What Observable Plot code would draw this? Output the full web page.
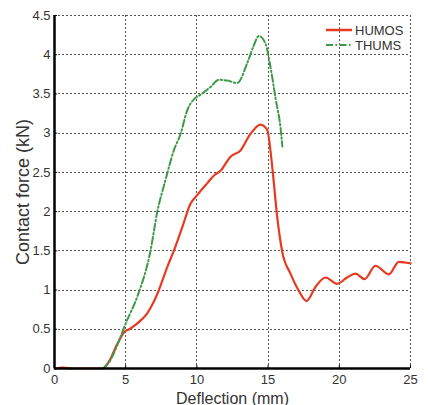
<!DOCTYPE html>
<html>
<head>
<meta charset="utf-8">
<script src="https://cdn.jsdelivr.net/npm/d3@7"></script>
<script src="https://cdn.jsdelivr.net/npm/@observablehq/plot@0.6"></script>
<style>
  html, body { margin: 0; padding: 0; background: #fff; }
  #wrap { position: relative; width: 428px; height: 405px; font-family: "Liberation Sans", Arial, sans-serif; }
  #legend { position: absolute; left: 322px; top: 20px; }
</style>
</head>
<body>
<div id="wrap"><div id="chart"></div><svg id="legend" width="100" height="36"></svg></div>
<script>
const xTicks = [0, 5, 10, 15, 20, 25];
const yTicks = [0, 0.5, 1, 1.5, 2, 2.5, 3, 3.5, 4, 4.5];
const yTickLabels = ["0", "0.5", "1", "1.5", "2", "2.5", "3", "3.5", "4", "4.5"];

const seriesNames = ["HUMOS", "THUMS"];
const seriesColors = ["#e63a22", "#3e9a46"];

const humosX = [0, 0.6, 1.3, 3.4, 3.8, 4.4, 4.87, 5.34, 6.04, 6.5, 6.97, 7.33, 7.91, 8.38, 8.97, 9.55, 10.02, 10.72, 11.2, 11.66, 12.36, 13.06, 13.76, 14.47, 14.94, 15.29, 15.64, 15.99, 16.57, 17.16, 17.7, 18.33, 19.03, 19.85, 20.55, 21.14, 21.77, 22.54, 23.48, 24.18, 25];
const humosY = [0, 0.01, 0, 0, 0.08, 0.31, 0.46, 0.51, 0.61, 0.7, 0.85, 1.0, 1.29, 1.5, 1.8, 2.1, 2.21, 2.36, 2.46, 2.52, 2.7, 2.78, 2.99, 3.11, 3.04, 2.57, 1.93, 1.49, 1.21, 0.99, 0.86, 1.04, 1.16, 1.08, 1.16, 1.21, 1.14, 1.31, 1.2, 1.36, 1.34];

const thumsX = [3.4, 3.9, 4.63, 4.99, 5.8, 6.74, 7.21, 7.79, 8.38, 8.85, 9.32, 9.9, 10.25, 10.96, 11.54, 12.13, 12.83, 13.53, 14.0, 14.35, 14.82, 15.17, 15.52, 15.92, 16.0];
const thumsY = [0, 0.1, 0.4, 0.57, 0.91, 1.5, 1.99, 2.4, 2.78, 2.99, 3.29, 3.45, 3.49, 3.59, 3.68, 3.67, 3.64, 3.89, 4.12, 4.24, 4.14, 3.84, 3.45, 2.99, 2.83];

const humos = humosX.map((x, i) => ({x, y: humosY[i]}));
const thums = thumsX.map((x, i) => ({x, y: thumsY[i]}));

const gridStyle = {stroke: "#555", strokeOpacity: 1, strokeDasharray: "2,2", strokeWidth: 1, shapeRendering: "crispEdges"};

const chart = Plot.plot({
  width: 428,
  height: 405,
  marginLeft: 54,
  marginRight: 18,
  marginTop: 15,
  marginBottom: 37,
  style: {fontFamily: "Liberation Sans, Arial, sans-serif", fontSize: "13px", color: "#333", background: "#fff"},
  x: {domain: [0, 25]},
  y: {domain: [0, 4.5]},
  marks: [
    Plot.ruleX(xTicks, gridStyle),
    Plot.ruleY(yTicks, gridStyle),
    Plot.line(humos, {x: "x", y: "y", stroke: seriesColors[0], strokeWidth: 2.2, curve: "monotone-x"}),
    Plot.line(thums, {x: "x", y: "y", stroke: seriesColors[1], strokeWidth: 2, strokeDasharray: "7,2.5,1.5,2.5", curve: "monotone-x"}),
    Plot.axisX(xTicks, {tickSize: -3, tickPadding: 9, stroke: "#000", fontSize: 13, fill: "#333", label: "Deflection (mm)", labelAnchor: "center", labelArrow: "none", labelOffset: 35}),
    Plot.axisY(yTicks, {tickSize: -3, tickPadding: 7, stroke: "#000", fontSize: 13, fill: "#333", tickFormat: (d, i) => yTickLabels[i], label: "Contact force (kN)", labelAnchor: "center", labelArrow: "none", labelOffset: 38}),
    Plot.ruleX([0], {stroke: "#000", strokeWidth: 2.5}),
    Plot.ruleY([0], {stroke: "#000", strokeWidth: 2.5})
  ]
});
document.getElementById("chart").appendChild(chart);
d3.select(chart).selectAll("[aria-label='x-axis label'] text").style("font-size", "16px").attr("fill", "#333");
d3.select(chart).selectAll("[aria-label='y-axis label'] text").style("font-size", "18px").attr("fill", "#333");

const leg = d3.select("#legend");
const dashes = [null, "7,2.5,1.5,2.5"];
seriesNames.forEach((name, i) => {
  const g = leg.append("g").attr("transform", `translate(0,${10 + i * 15})`);
  g.append("line").attr("x1", 4).attr("x2", 30).attr("y1", 0).attr("y2", 0)
    .attr("stroke", seriesColors[i]).attr("stroke-width", i === 0 ? 2.5 : 2)
    .attr("stroke-dasharray", dashes[i]);
  g.append("text").attr("x", 33).attr("y", 0).attr("dy", "0.35em")
    .attr("font-size", 13).attr("fill", "#333").text(name);
});
</script>
</body>
</html>
